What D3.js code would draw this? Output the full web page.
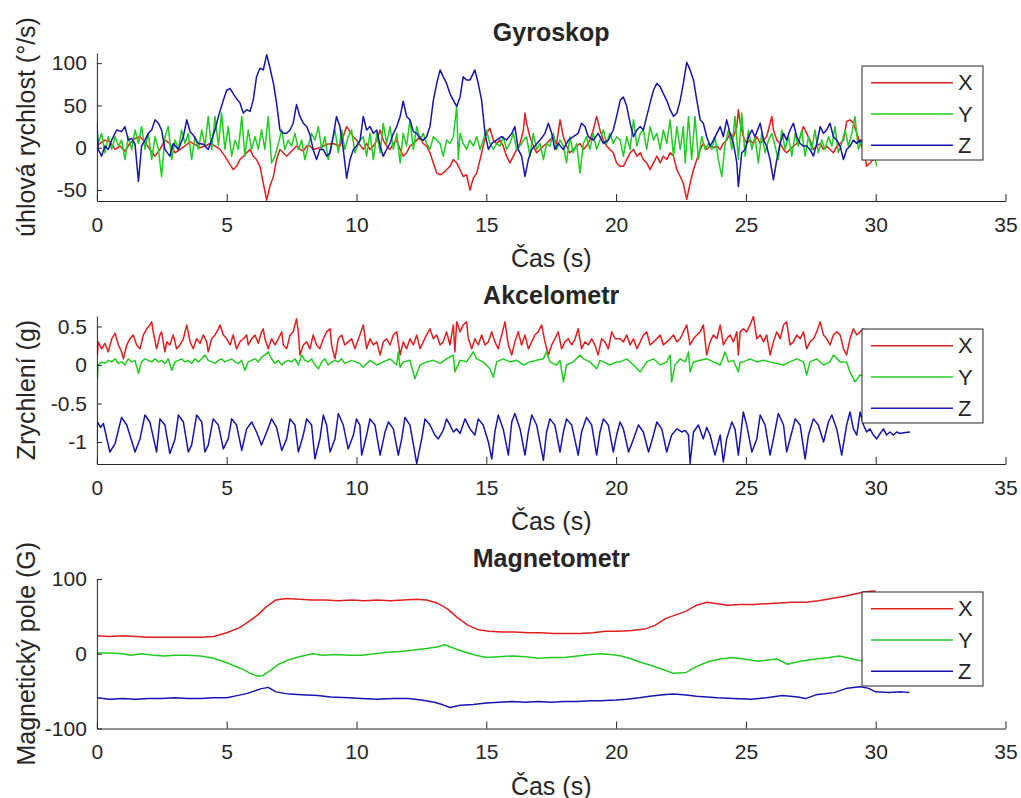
<!DOCTYPE html>
<html>
<head>
<meta charset="utf-8">
<script src="https://cdn.jsdelivr.net/npm/d3@7/dist/d3.min.js"></script>
<style>
  body { margin: 0; background: #fff; }
  text { font-family: "Liberation Sans", Arial, sans-serif; fill: #262626; }
</style>
</head>
<body>
<svg id="chart" width="1021" height="798"></svg>
<script>
// ---- data: [time (s), value] ----
const timeTicks = [0, 5, 10, 15, 20, 25, 30, 35];
const timeLimits = [0, 35];

const gyroTicks = [-50, 0, 50, 100];
const gyroLimits = [-63, 112];
const accTicks = [-1, -0.5, 0, 0.5];
const accLimits = [-1.286, 0.636];
const magTicks = [-100, 0, 100];
const magLimits = [-100, 100];

const seriesNames = ['X', 'Y', 'Z'];

const gyroX = [[0,2],[0.12,5],[0.31,9],[0.5,7],[0.7,-2],[0.89,2],[1.08,-4],[1.27,5],[1.47,11],[1.66,13],[1.85,7],[2.04,-2],[2.24,-10],[2.43,-2],[2.62,9],[2.81,5],[3.01,-6],[3.2,-2],[3.39,2],[3.59,7],[3.78,4],[3.97,0],[4.16,2],[4.36,5],[4.55,2],[4.74,-2],[4.93,-10],[5.13,-20],[5.25,-26],[5.38,-22],[5.51,-14],[5.64,-10],[5.77,-6],[5.9,-2],[6.02,-10],[6.15,-14],[6.28,-22],[6.41,-42],[6.54,-62],[6.67,-45],[6.8,-34],[6.92,-14],[7.05,-2],[7.18,-6],[7.31,-10],[7.44,-6],[7.56,-2],[7.69,2],[7.82,-2],[7.95,-4],[8.08,2],[8.21,2],[8.33,-2],[8.59,0],[8.85,4],[9.1,5],[9.36,2],[9.62,25],[9.75,19],[9.88,13],[10.0,9],
  [10.26,-2],[10.39,5],[10.52,-2],[10.65,2],[10.78,9],[10.91,21],[11.03,9],[11.16,2],[11.29,-2],[11.42,5],[11.55,9],[11.68,-2],[11.8,-10],[11.93,-6],[12.06,2],[12.19,5],[12.32,9],[12.45,13],[12.57,5],[12.7,2],[12.83,-6],[12.96,-18],[13.09,-30],[13.22,-32],[13.34,-30],[13.47,-26],[13.6,-22],[13.73,-14],[13.86,-18],[13.99,-26],[14.11,-34],[14.24,-32],[14.37,-50],[14.5,-36],[14.63,-30],[14.76,-14],[14.88,2],[15.01,17],[15.14,23],[15.27,9],[15.4,5],[15.53,9],[15.65,2],[15.78,-10],[15.91,-18],[16.04,-10],[16.17,-2],[16.3,5],[16.43,21],[16.49,41],[16.55,29],[16.68,13],[16.81,2],[16.94,-6],[17.07,-2],[17.2,2],[17.32,5],[17.45,9],[17.58,13],[17.71,5],[17.84,33],[17.97,13],[18.09,2],[18.22,-6],[18.35,-2],[18.48,2],[18.61,5],[18.74,-2],[18.86,2],[18.99,9],[19.12,21],[19.25,37],[19.38,21],[19.51,9],[19.63,2],[19.76,-2],[19.89,-6],[20.02,-18],[20.15,-22],
  [20.28,-22],[20.41,-14],[20.54,-6],[20.67,-2],[20.8,-10],[20.93,-6],[21.05,-14],[21.18,-18],[21.31,-26],[21.44,-18],[21.57,-10],[21.7,-18],[21.82,-10],[21.95,-14],[22.08,-6],[22.21,-10],[22.34,-26],[22.47,-34],[22.59,-42],[22.72,-61],[22.85,-42],[22.98,-26],[23.11,-14],[23.24,-2],[23.36,5],[23.49,-2],[23.62,2],[23.75,0],[23.88,2],[24.01,-2],[24.13,5],[24.26,9],[24.39,17],[24.52,13],[24.65,25],[24.71,45],[24.78,29],[24.9,13],[25.03,5],[25.16,9],[25.29,5],[25.42,13],[25.55,5],[25.68,9],[25.8,13],[25.93,29],[26.0,37],[26.06,21],[26.19,9],[26.32,5],[26.45,-2],[26.57,-6],[26.7,-2],[26.83,2],[26.96,5],[27.09,13],[27.22,25],[27.34,17],[27.47,9],[27.6,-2],[27.73,2],[27.86,5],[27.99,-2],[28.11,2],[28.24,-2],[28.37,-6],[28.5,2],[28.63,5],[28.76,9],[28.88,31],[29.01,33],[29.14,29],[29.27,17],[29.4,5],[29.53,-2],[29.65,-22],[29.78,-18],[29.91,-14],[30.04,-6]];

const gyroY = [[0,21],[0.05,5],[0.18,17],[0.31,-6],[0.44,13],[0.57,-2],[0.7,13],[0.83,2],[0.95,9],[1.08,-14],[1.21,13],[1.34,-2],[1.47,21],[1.6,5],[1.72,25],[1.85,-2],[1.98,17],[2.11,-14],[2.24,13],[2.37,-2],[2.49,-34],[2.62,13],[2.75,25],[2.88,-14],[3.01,9],[3.14,-2],[3.26,21],[3.39,5],[3.52,17],[3.65,-14],[3.78,13],[3.91,-2],[4.04,21],[4.16,2],[4.29,37],[4.42,-2],[4.55,37],[4.68,2],[4.8,41],[4.93,-2],[5.06,25],[5.19,-10],[5.32,9],[5.45,-2],[5.58,37],[5.7,-10],[5.83,21],[5.96,-2],[6.09,13],[6.22,-2],[6.34,21],[6.47,-2],[6.6,37],[6.73,-18],[6.86,-10],[6.99,5],[7.12,21],[7.24,-2],[7.37,9],[7.5,2],[7.63,17],[7.76,-2],[7.89,9],[8.01,-14],[8.14,2],[8.27,17],[8.4,9],[8.53,25],[8.66,-2],[8.78,13],[8.91,-14],[9.04,5],[9.17,21],[9.3,-6],[9.43,21],[9.55,-2],[9.68,13],[9.81,21],[9.94,-6],[10.13,9],
  [10.26,13],[10.39,-10],[10.52,17],[10.65,-14],[10.78,17],[10.91,-6],[11.03,29],[11.16,5],[11.29,25],[11.42,-2],[11.55,17],[11.68,-18],[11.8,17],[11.93,2],[12.06,33],[12.19,-2],[12.32,25],[12.45,9],[12.57,17],[12.7,5],[12.83,-2],[12.96,13],[13.09,9],[13.22,5],[13.34,-10],[13.47,9],[13.6,5],[13.73,13],[13.86,49],[13.92,-14],[13.99,17],[14.11,5],[14.24,-2],[14.37,9],[14.5,2],[14.63,13],[14.76,-2],[14.88,9],[15.01,21],[15.14,5],[15.27,-2],[15.4,5],[15.53,2],[15.65,13],[15.78,-2],[15.91,5],[16.04,17],[16.17,-2],[16.3,2],[16.43,9],[16.55,13],[16.68,-10],[16.81,17],[16.94,-2],[17.07,5],[17.2,-14],[17.32,5],[17.45,2],[17.58,17],[17.71,-2],[17.84,9],[17.97,2],[18.09,-18],[18.22,13],[18.35,-6],[18.48,5],[18.61,-30],[18.74,5],[18.86,13],[18.99,-2],[19.12,17],[19.25,-2],[19.38,9],[19.51,21],[19.63,5],[19.76,17],[19.89,5],[20.02,13],
  [20.16,9],[20.28,-10],[20.41,13],[20.54,-2],[20.67,33],[20.8,2],[20.93,17],[21.05,21],[21.18,-2],[21.31,25],[21.44,9],[21.57,17],[21.7,-2],[21.82,21],[21.95,5],[22.08,33],[22.21,-10],[22.34,25],[22.47,-2],[22.59,25],[22.66,-18],[22.79,37],[22.91,-14],[23.04,37],[23.17,-14],[23.3,13],[23.43,-2],[23.56,5],[23.69,-2],[23.81,13],[23.94,-14],[24.07,-34],[24.2,5],[24.33,21],[24.46,-2],[24.58,37],[24.71,-14],[24.84,41],[24.97,-10],[25.1,21],[25.23,-2],[25.35,13],[25.48,-18],[25.61,17],[25.74,-6],[25.87,9],[26.0,17],[26.12,2],[26.25,-14],[26.38,21],[26.51,-2],[26.64,13],[26.77,-10],[26.9,17],[27.02,2],[27.15,21],[27.28,-10],[27.41,13],[27.54,-2],[27.66,21],[27.79,-6],[27.92,9],[28.05,-2],[28.18,13],[28.31,2],[28.43,25],[28.56,-6],[28.69,5],[28.82,21],[28.95,2],[29.08,17],[29.2,37],[29.33,-2],[29.46,9],[29.65,-5],[29.85,5],[30.04,-22]];

const gyroZ = [[0,31],[0.05,-2],[0.18,-10],[0.31,2],[0.44,-2],[0.57,9],[0.76,21],[0.95,19],[1.08,25],[1.21,9],[1.34,11],[1.47,4],[1.6,-40],[1.72,2],[1.85,9],[1.98,17],[2.11,21],[2.24,33],[2.37,29],[2.49,21],[2.62,-2],[2.81,-10],[2.94,5],[3.14,-2],[3.33,13],[3.46,33],[3.59,19],[3.71,15],[3.91,5],[4.1,4],[4.29,-2],[4.42,9],[4.55,21],[4.68,37],[4.87,56],[5.0,68],[5.13,70],[5.25,64],[5.38,58],[5.51,53],[5.64,41],[5.77,45],[5.9,43],[6.02,56],[6.15,84],[6.28,94],[6.41,92],[6.54,110],[6.67,94],[6.8,76],[6.92,53],[7.05,21],[7.18,17],[7.31,17],[7.44,21],[7.56,29],[7.69,51],[7.82,37],[7.95,29],[8.08,25],[8.21,15],[8.33,-2],[8.46,-14],[8.59,-2],[8.72,-2],[8.85,-10],[8.98,-6],[9.1,13],[9.23,37],[9.36,25],[9.49,-2],[9.62,-36],[9.75,-14],[9.88,-2],[10.0,2],
  [10.14,9],[10.26,37],[10.39,21],[10.52,25],[10.65,17],[10.78,21],[10.91,2],[11.03,-10],[11.16,-2],[11.29,5],[11.42,17],[11.55,25],[11.68,37],[11.8,55],[11.93,37],[12.06,33],[12.19,19],[12.32,17],[12.45,11],[12.57,9],[12.7,13],[12.83,25],[12.96,56],[13.09,76],[13.22,92],[13.34,84],[13.47,76],[13.6,64],[13.73,56],[13.86,49],[13.99,60],[14.11,84],[14.24,80],[14.37,80],[14.56,92],[14.69,76],[14.82,56],[14.95,17],[15.08,-2],[15.21,5],[15.4,9],[15.59,13],[15.78,9],[15.98,17],[16.1,25],[16.23,-2],[16.36,-10],[16.49,-34],[16.62,-14],[16.75,-2],[16.87,2],[17.07,9],[17.26,17],[17.39,29],[17.52,17],[17.64,-2],[17.77,5],[17.97,-2],[18.16,9],[18.35,13],[18.54,17],[18.67,29],[18.8,25],[18.93,13],[19.12,9],[19.31,17],[19.51,5],[19.7,9],[19.89,21],[20.02,37],
  [20.16,56],[20.28,60],[20.41,49],[20.54,29],[20.67,13],[20.8,21],[20.93,25],[21.05,21],[21.18,37],[21.31,53],[21.44,68],[21.57,76],[21.7,72],[21.82,64],[21.95,56],[22.08,45],[22.21,37],[22.34,41],[22.47,56],[22.59,76],[22.72,101],[22.85,92],[22.98,80],[23.11,56],[23.24,33],[23.36,29],[23.49,13],[23.62,2],[23.75,9],[23.88,17],[24.01,25],[24.13,13],[24.26,33],[24.39,17],[24.52,5],[24.65,-18],[24.71,-46],[24.84,-6],[24.97,-2],[25.1,13],[25.23,21],[25.35,13],[25.55,29],[25.68,9],[25.8,2],[25.93,-14],[26.06,-38],[26.19,-14],[26.32,5],[26.45,17],[26.57,9],[26.7,21],[26.83,29],[26.96,13],[27.09,5],[27.22,2],[27.34,2],[27.47,-2],[27.6,-10],[27.73,5],[27.86,25],[27.99,17],[28.11,21],[28.24,29],[28.37,13],[28.5,9],[28.63,2],[28.76,-14],[28.88,-2],[29.01,2],[29.14,9],[29.27,5],[29.4,9],[29.6,4],[29.8,6]];

const accX = [[0,0.26],[0.02,0.13],[0.05,0.30],[0.18,0.21],[0.31,0.28],[0.44,0.17],[0.57,0.34],[0.7,0.41],[0.83,0.26],[0.95,0.17],[1.02,0.08],[1.15,0.26],[1.27,0.34],[1.4,0.39],[1.53,0.26],[1.66,0.21],[1.79,0.39],[1.92,0.47],[2.04,0.52],[2.11,0.56],[2.17,0.43],[2.3,0.21],[2.43,0.39],[2.49,0.43],[2.62,0.17],[2.69,0.30],[2.81,0.26],[2.94,0.39],[3.07,0.21],[3.2,0.26],[3.33,0.34],[3.46,0.52],[3.59,0.30],[3.71,0.21],[3.84,0.34],[3.97,0.28],[4.1,0.39],[4.23,0.30],[4.29,0.17],[4.42,0.34],[4.55,0.39],[4.68,0.47],[4.74,0.52],[4.87,0.39],[5.0,0.34],[5.13,0.26],[5.25,0.39],[5.38,0.21],[5.51,0.30],[5.64,0.34],[5.77,0.39],[5.83,0.26],[5.96,0.34],[6.09,0.39],[6.22,0.28],[6.34,0.43],[6.41,0.47],[6.47,0.34],[6.6,0.21],[6.73,0.34],[6.86,0.26],[6.99,0.34],[7.12,0.43],[7.18,0.26],[7.31,0.21],[7.44,0.39],[7.56,0.43],[7.69,0.60],[7.76,0.43],[7.82,0.13],[7.95,0.26],[8.08,0.30],[8.21,0.21],[8.33,0.39],[8.46,0.26],[8.59,0.21],[8.72,0.34],[8.85,0.43],[8.98,0.47],[9.04,0.26],[9.17,0.08],[9.3,0.34],[9.43,0.39],[9.55,0.26],[9.68,0.30],[9.81,0.34],[9.94,0.21],[10.13,0.39],
  [10.26,0.52],[10.39,0.21],[10.52,0.34],[10.65,0.26],[10.78,0.30],[10.91,0.13],[11.03,0.30],[11.16,0.34],[11.29,0.26],[11.42,0.39],[11.55,0.43],[11.68,0.13],[11.8,0.30],[11.93,0.21],[12.06,0.34],[12.19,0.26],[12.32,0.39],[12.45,0.21],[12.57,0.30],[12.7,0.39],[12.83,0.47],[12.96,0.34],[13.09,0.39],[13.22,0.26],[13.34,0.30],[13.47,0.43],[13.6,0.26],[13.73,0.52],[13.79,0.17],[13.86,0.56],[13.99,0.43],[14.11,0.52],[14.24,0.56],[14.31,0.34],[14.44,0.21],[14.56,0.34],[14.69,0.26],[14.82,0.39],[14.95,0.26],[15.08,0.30],[15.21,0.43],[15.33,0.30],[15.46,0.21],[15.59,0.39],[15.72,0.56],[15.85,0.26],[15.98,0.13],[16.1,0.30],[16.23,0.43],[16.36,0.26],[16.49,0.39],[16.62,0.21],[16.75,0.30],[16.87,0.39],[17.0,0.43],[17.13,0.52],[17.26,0.30],[17.39,0.13],[17.52,0.26],[17.64,0.34],[17.77,0.43],[17.9,0.21],[18.03,0.30],[18.16,0.34],[18.29,0.26],[18.42,0.34],[18.54,0.47],[18.67,0.21],[18.8,0.30],[18.93,0.26],[19.06,0.34],[19.18,0.26],[19.31,0.13],[19.44,0.34],[19.57,0.30],[19.7,0.21],[19.83,0.43],[19.96,0.34],
  [20.16,0.34],[20.28,0.30],[20.41,0.39],[20.54,0.26],[20.67,0.34],[20.8,0.21],[20.93,0.30],[21.05,0.39],[21.18,0.43],[21.31,0.26],[21.44,0.30],[21.57,0.34],[21.7,0.39],[21.82,0.26],[21.95,0.30],[22.08,0.34],[22.21,0.39],[22.34,0.30],[22.47,0.34],[22.59,0.43],[22.72,0.52],[22.85,0.26],[22.98,0.34],[23.11,0.39],[23.24,0.43],[23.36,0.52],[23.49,0.13],[23.62,0.30],[23.75,0.39],[23.88,0.34],[24.01,0.52],[24.13,0.26],[24.26,0.34],[24.39,0.39],[24.52,0.30],[24.65,0.43],[24.71,0.13],[24.78,0.43],[24.9,0.47],[25.03,0.43],[25.16,0.52],[25.29,0.63],[25.42,0.34],[25.55,0.39],[25.68,0.30],[25.8,0.39],[25.93,0.13],[26.06,0.30],[26.19,0.43],[26.32,0.34],[26.45,0.52],[26.57,0.56],[26.7,0.26],[26.83,0.30],[26.96,0.39],[27.09,0.34],[27.22,0.43],[27.34,0.21],[27.47,0.30],[27.6,0.34],[27.73,0.43],[27.86,0.56],[27.99,0.39],[28.11,0.34],[28.24,0.26],[28.37,0.39],[28.5,0.43],[28.63,0.39],[28.76,0.21],[28.88,0.13],[29.01,0.34],[29.14,0.47],[29.27,0.39],[29.4,0.43],[29.53,0.47],[29.78,0.40]];

const accY = [[0,0.04],[0.02,-0.18],[0.05,0.0],[0.18,0.04],[0.31,0.02],[0.44,0.06],[0.57,0.04],[0.7,0.08],[0.83,0.02],[0.95,0.04],[1.08,0.0],[1.21,0.08],[1.34,0.04],[1.47,0.06],[1.6,-0.11],[1.72,0.04],[1.85,0.08],[1.98,0.06],[2.11,0.04],[2.24,0.08],[2.37,0.04],[2.49,0.06],[2.62,0.02],[2.75,0.08],[2.88,-0.07],[3.01,0.04],[3.14,0.06],[3.26,0.08],[3.39,0.04],[3.52,0.06],[3.65,0.02],[3.78,0.08],[3.91,0.04],[4.04,0.08],[4.16,0.13],[4.29,0.06],[4.42,0.04],[4.55,0.02],[4.68,0.06],[4.8,0.08],[4.93,0.04],[5.06,0.06],[5.19,0.08],[5.32,0.04],[5.45,0.02],[5.58,0.06],[5.7,-0.07],[5.83,0.04],[5.96,0.06],[6.09,0.08],[6.22,0.04],[6.34,0.10],[6.47,0.13],[6.6,0.17],[6.73,0.08],[6.86,0.02],[6.99,0.06],[7.12,0.0],[7.24,0.04],[7.37,0.06],[7.5,0.04],[7.63,0.08],[7.76,0.0],[7.89,0.13],[8.01,0.06],[8.14,0.04],[8.27,0.08],[8.4,0.0],[8.53,-0.05],[8.66,0.04],[8.78,0.08],[8.91,0.0],[9.04,0.04],[9.17,0.06],[9.3,0.04],[9.43,0.08],[9.55,0.02],[9.68,0.04],[9.81,0.06],[9.94,0.04],[10.13,0.02],
  [10.26,-0.03],[10.52,0.06],[10.78,0.0],[11.03,0.04],[11.29,0.08],[11.55,0.0],[11.61,0.17],[11.68,-0.03],[11.8,0.04],[12.06,0.06],[12.25,-0.18],[12.45,0.0],[12.7,0.04],[12.96,0.06],[13.22,0.02],[13.47,0.08],[13.73,0.13],[13.79,-0.09],[13.99,0.06],[14.24,0.04],[14.5,0.17],[14.63,0.08],[14.88,0.04],[15.14,-0.05],[15.27,-0.16],[15.4,0.04],[15.65,0.08],[15.91,0.04],[16.17,0.06],[16.43,0.0],[16.68,0.04],[16.94,0.06],[17.2,0.08],[17.32,0.17],[17.45,0.04],[17.71,0.0],[17.84,0.06],[17.97,-0.22],[18.09,0.0],[18.35,0.04],[18.61,0.13],[18.74,0.08],[18.99,0.04],[19.25,-0.05],[19.38,0.06],[19.51,0.04],[19.76,0.0],[20.02,0.04],
  [20.16,0.04],[20.41,0.08],[20.67,0.0],[20.93,-0.09],[21.18,0.04],[21.44,0.08],[21.7,0.0],[21.95,0.04],[22.08,0.13],[22.14,-0.22],[22.27,0.0],[22.47,0.08],[22.66,0.04],[22.79,0.17],[22.85,-0.09],[22.98,0.04],[23.24,0.06],[23.49,0.08],[23.75,0.04],[24.01,0.0],[24.2,0.17],[24.33,0.04],[24.52,0.06],[24.71,-0.09],[24.78,0.04],[24.9,0.04],[25.16,0.08],[25.42,0.04],[25.68,0.06],[25.93,0.04],[26.19,0.02],[26.45,0.0],[26.7,0.04],[26.96,0.08],[27.22,0.04],[27.34,-0.13],[27.47,0.04],[27.73,0.08],[27.99,0.0],[28.24,0.04],[28.37,0.13],[28.63,0.04],[28.88,0.04],[29.01,-0.09],[29.2,-0.22],[29.4,-0.13],[29.6,-0.15],[29.8,-0.1]];

const accZ = [[0,-0.98],[0.02,-0.74],[0.14,-0.81],[0.25,-0.76],[0.5,-1.13],[0.7,-1.02],[0.95,-0.68],[1.15,-0.78],[1.47,-1.13],[1.66,-0.96],[1.85,-0.65],[2.04,-0.74],[2.24,-1.04],[2.3,-1.13],[2.43,-0.70],[2.62,-0.78],[2.81,-1.15],[3.01,-0.96],[3.14,-0.65],[3.33,-0.74],[3.52,-1.13],[3.65,-1.04],[3.84,-0.65],[4.04,-0.74],[4.16,-1.13],[4.29,-1.04],[4.48,-0.70],[4.68,-0.78],[4.87,-1.09],[5.06,-0.96],[5.19,-0.70],[5.38,-0.78],[5.58,-1.11],[5.77,-0.83],[5.96,-0.74],[6.15,-0.87],[6.34,-1.04],[6.54,-0.87],[6.73,-0.70],[6.92,-0.81],[7.12,-1.11],[7.31,-0.96],[7.44,-0.70],[7.63,-0.78],[7.76,-1.13],[7.95,-0.91],[8.08,-0.70],[8.27,-0.78],[8.4,-1.22],[8.59,-0.96],[8.72,-0.65],[8.85,-0.78],[8.98,-1.13],[9.17,-0.96],[9.3,-0.63],[9.49,-0.78],[9.68,-1.09],[9.88,-0.91],[10.0,-0.70],[10.13,-0.78],
  [10.2,-1.17],[10.39,-0.91],[10.52,-0.70],[10.71,-0.78],[10.91,-1.17],[11.1,-0.87],[11.23,-0.74],[11.42,-0.83],[11.61,-1.17],[11.74,-0.96],[11.87,-0.68],[12.06,-0.78],[12.32,-1.28],[12.51,-0.96],[12.64,-0.70],[12.83,-0.78],[13.02,-0.91],[13.15,-0.96],[13.34,-0.85],[13.47,-0.70],[13.6,-0.78],[13.73,-0.87],[13.86,-0.83],[13.99,-0.89],[14.18,-0.70],[14.37,-0.83],[14.56,-0.91],[14.69,-0.70],[14.88,-0.78],[15.08,-1.0],[15.21,-1.22],[15.33,-0.87],[15.46,-0.65],[15.65,-0.83],[15.85,-1.17],[15.98,-0.74],[16.1,-0.63],[16.3,-0.83],[16.49,-1.17],[16.62,-0.87],[16.75,-0.65],[16.94,-0.78],[17.2,-1.24],[17.32,-0.87],[17.45,-0.70],[17.64,-0.78],[17.84,-1.13],[17.97,-0.87],[18.09,-0.70],[18.29,-0.78],[18.54,-1.17],[18.67,-0.87],[18.86,-0.68],[19.06,-0.78],[19.25,-1.17],[19.38,-0.87],[19.51,-0.70],[19.7,-0.78],[19.89,-1.13],[20.02,-0.91],[20.15,-0.74],
  [20.28,-0.83],[20.48,-1.13],[20.67,-0.96],[20.86,-0.78],[21.05,-0.87],[21.25,-1.13],[21.44,-0.91],[21.57,-0.74],[21.76,-0.83],[21.95,-1.13],[22.14,-0.91],[22.34,-0.83],[22.53,-0.87],[22.66,-0.85],[22.79,-0.91],[22.85,-1.28],[22.98,-0.87],[23.17,-0.78],[23.36,-0.96],[23.49,-0.81],[23.62,-0.91],[23.81,-1.17],[24.01,-0.91],[24.13,-1.26],[24.26,-0.96],[24.46,-0.74],[24.58,-0.83],[24.71,-1.17],[24.9,-0.61],[25.03,-0.78],[25.23,-1.13],[25.42,-0.96],[25.55,-0.65],[25.74,-0.78],[25.93,-1.17],[26.06,-0.96],[26.25,-0.63],[26.45,-0.78],[26.57,-1.13],[26.77,-0.87],[26.9,-0.70],[27.09,-0.78],[27.28,-1.22],[27.41,-0.91],[27.6,-0.70],[27.79,-0.78],[27.99,-1.0],[28.18,-0.74],[28.31,-0.65],[28.5,-0.83],[28.69,-1.17],[28.88,-0.78],[29.01,-0.61],[29.14,-0.83],[29.27,-0.91],[29.4,-0.61],[29.53,-0.78],[29.65,-0.87],[29.78,-0.83],[29.91,-0.91],[30.04,-0.96],[30.17,-0.89],[30.3,-0.83],[30.42,-0.91],[30.55,-0.87],[30.68,-0.91],[30.81,-0.87],[30.94,-0.89],[31.07,-0.88],[31.32,-0.87]];

const magX = [[0,24],[0.5,23],[1,24],[1.5,23],[2,22],[2.5,22],[3,22],[3.5,22],[4,22],[4.5,23],[5,28],[5.5,35],[5.8,42],[6.2,52],[6.5,62],[6.9,72],[7.3,74],[7.8,73],[8.3,72],[8.8,72],[9.3,71],[9.8,72],[10.3,71],[10.8,72],[11.3,71],[11.8,72],[12.3,73],[12.7,72],[13.1,68],[13.5,60],[13.9,48],[14.3,38],[14.7,32],[15.1,30],[15.6,29],[16.1,29],[16.6,28],[17.1,28],[17.6,27],[18.1,27],[18.6,27],[19.1,28],[19.6,30],[20.1,30],[20.6,31],[21.1,33],[21.5,38],[21.9,47],[22.3,52],[22.7,57],[23.1,65],[23.5,69],[23.9,67],[24.3,65],[24.8,66],[25.3,66],[25.8,67],[26.3,68],[26.8,69],[27.3,69],[27.8,71],[28.3,74],[28.8,77],[29.2,80],[29.6,83],[30,84]];

const magY = [[0,1],[0.5,1],[1,0],[1.3,-2],[1.7,0],[2.2,-2],[2.6,-3],[3,-2],[3.5,-2],[4,-3],[4.5,-6],[5,-12],[5.5,-19],[5.9,-26],[6.2,-30],[6.4,-29],[6.7,-22],[7,-14],[7.4,-8],[7.8,-4],[8.3,0],[8.7,-2],[9.2,-1],[9.7,-2],[10.2,-2],[10.7,0],[11.2,2],[11.7,3],[12.2,5],[12.7,7],[13.1,9],[13.4,12],[13.7,8],[14.1,3],[14.6,-2],[15,-5],[15.5,-4],[16,-3],[16.5,-4],[17,-6],[17.5,-5],[18,-5],[18.5,-3],[19,-1],[19.4,0],[19.8,-1],[20.2,-3],[20.6,-7],[21,-12],[21.4,-16],[21.8,-21],[22.2,-26],[22.7,-25],[23.1,-17],[23.6,-10],[24,-7],[24.5,-5],[24.9,-7],[25.5,-10],[26.2,-7],[26.6,-14],[27.1,-10],[27.7,-7],[28.2,-5],[28.6,-3],[29.1,-7],[29.5,-10],[30,-8]];

const magZ = [[0,-59],[0.5,-61],[1,-60],[1.5,-61],[2,-60],[2.5,-60],[3,-59],[3.5,-60],[4,-60],[4.5,-59],[5,-59],[5.4,-56],[5.8,-53],[6.3,-47],[6.6,-45],[6.9,-51],[7.4,-54],[7.9,-55],[8.5,-56],[9,-58],[9.7,-59],[10.2,-60],[10.8,-61],[11.4,-60],[12,-60],[12.5,-62],[13,-65],[13.3,-68],[13.6,-72],[14,-69],[14.5,-68],[15,-66],[15.5,-65],[16,-64],[16.5,-65],[17,-64],[17.5,-65],[18,-64],[18.5,-64],[19,-63],[19.4,-63],[20,-62],[20.4,-61],[20.9,-59],[21.3,-57],[21.8,-55],[22.2,-54],[22.6,-55],[23.1,-57],[23.5,-58],[23.9,-59],[24.5,-60],[25.2,-61],[25.8,-59],[26.4,-56],[27,-58],[27.3,-60],[27.7,-55],[28.4,-52],[28.9,-46],[29.4,-44],[29.7,-46],[30,-51],[30.5,-52],[31,-51],[31.3,-52]];

// ---- layout ----
const colors = ['#e01f1f', '#20cc20', '#1414b0'];
const axisColor = '#262626';

const panels = [
  { title: 'Gyroskop', ylabel: 'úhlová rychlost (°/s)', series: [gyroX, gyroY, gyroZ],
    limits: gyroLimits, ticks: gyroTicks, top: 53, bottom: 201, legendTop: 66, legendBottom: 160 },
  { title: 'Akcelometr', ylabel: 'Zrychlení (g)', series: [accX, accY, accZ],
    limits: accLimits, ticks: accTicks, top: 316, bottom: 464, legendTop: 329, legendBottom: 423 },
  { title: 'Magnetometr', ylabel: 'Magnetický pole (G)', series: [magX, magY, magZ],
    limits: magLimits, ticks: magTicks, top: 579, bottom: 728.5, legendTop: 592, legendBottom: 686 }
];

const svg = d3.select('#chart');
const x = d3.scaleLinear().domain(timeLimits).range([96.9, 1005.5]);

const drawPanel = (p, i) => {
  const y = d3.scaleLinear().domain(p.limits).range([p.bottom, p.top]);
  const g = svg.append('g');

  g.append('clipPath').attr('id', 'clip' + i)
    .append('rect')
    .attr('x', x.range()[0]).attr('y', p.top)
    .attr('width', x.range()[1] - x.range()[0]).attr('height', p.bottom - p.top);

  const line = d3.line().x(d => x(d[0])).y(d => y(d[1]));

  p.series.forEach((s, k) => {
    g.append('path')
      .datum(s)
      .attr('clip-path', `url(#clip${i})`)
      .attr('d', line)
      .attr('fill', 'none')
      .attr('stroke', colors[k])
      .attr('stroke-width', 1.5)
      .attr('stroke-linejoin', 'round');
  });

  // X axis (ticks point inward)
  const xAxis = g.append('g')
    .attr('transform', `translate(0, ${p.bottom})`)
    .call(d3.axisBottom(x).tickValues(timeTicks).tickSizeInner(-7).tickSizeOuter(0).tickPadding(16));
  xAxis.select('.domain').attr('stroke', axisColor);
  xAxis.selectAll('.tick line').attr('stroke', axisColor);
  xAxis.selectAll('text').attr('font-size', '21px').attr('fill', axisColor)
    .attr('font-family', '"Liberation Sans", Arial, sans-serif');

  // Y axis
  const yAxis = g.append('g')
    .attr('transform', `translate(${x.range()[0]}, 0)`)
    .call(d3.axisLeft(y).tickValues(p.ticks).tickSizeInner(-5).tickSizeOuter(0).tickPadding(10).tickFormat(d => String(d)));
  yAxis.select('.domain').attr('stroke', axisColor);
  yAxis.selectAll('.tick line').attr('stroke', axisColor);
  yAxis.selectAll('text').attr('font-size', '21px').attr('fill', axisColor)
    .attr('font-family', '"Liberation Sans", Arial, sans-serif');

  const cx = (x.range()[0] + x.range()[1]) / 2;

  // Title
  g.append('text')
    .attr('x', cx).attr('y', p.top - 12)
    .attr('text-anchor', 'middle')
    .attr('font-size', '25px')
    .attr('font-weight', 'bold')
    .text(p.title);

  // X label
  g.append('text')
    .attr('x', cx).attr('y', p.bottom + 66)
    .attr('text-anchor', 'middle')
    .attr('font-size', '25px')
    .text('Čas (s)');

  // Y label
  g.append('text')
    .attr('transform', `translate(26, ${(p.top + p.bottom) / 2}) rotate(-90)`)
    .attr('dy', '0.35em')
    .attr('text-anchor', 'middle')
    .attr('font-size', '25px')
    .text(p.ylabel);

  // Legend
  const legend = g.append('g');
  legend.append('rect')
    .attr('x', 862).attr('y', p.legendTop)
    .attr('width', 121).attr('height', p.legendBottom - p.legendTop)
    .attr('fill', '#fff').attr('stroke', axisColor).attr('stroke-width', 1);

  const step = (p.legendBottom - p.legendTop) / 3;
  seriesNames.forEach((name, k) => {
    const ly = p.legendTop + step * (k + 0.5) + 1;
    legend.append('line')
      .attr('x1', 871).attr('x2', 953)
      .attr('y1', ly).attr('y2', ly)
      .attr('stroke', colors[k]).attr('stroke-width', 1.5);
    legend.append('text')
      .attr('x', 958).attr('y', ly)
      .attr('dy', '0.35em')
      .attr('font-size', '22px')
      .text(name);
  });
};

panels.forEach(drawPanel);
</script>
</body>
</html>
